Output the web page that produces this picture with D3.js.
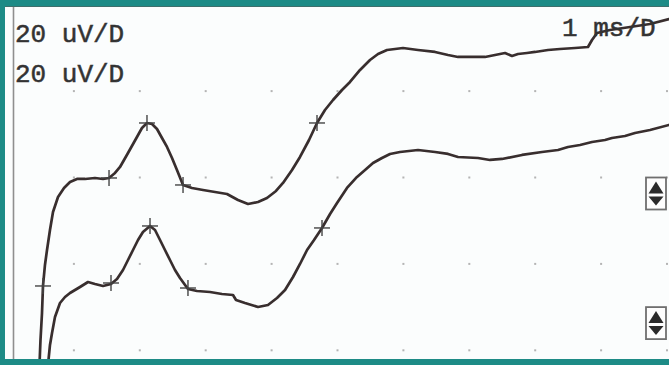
<!DOCTYPE html>
<html>
<head>
<meta charset="utf-8">
<script src="https://cdn.jsdelivr.net/npm/d3@7"></script>
<style>
  html, body { margin: 0; padding: 0; background: #fff; }
  svg { display: block; }
  .label { font-family: "Liberation Mono", "DejaVu Sans Mono", monospace; fill: #333; stroke: #333; stroke-width: 0.5; }
</style>
</head>
<body>
<svg width="669" height="365"></svg>
<script>
// time in ms, amplitude in uV (1 ms/D, 20 uV/D)
const upperMs = [0.478, 0.493, 0.516, 0.531, 0.561, 0.592, 0.637, 0.683, 0.759, 0.85, 0.941, 1.047, 1.169, 1.32, 1.442, 1.533,
	1.624, 1.7, 1.821, 1.957, 2.033, 2.109, 2.185, 2.261, 2.337, 2.413, 2.489, 2.564, 2.656, 2.792, 2.959, 3.141, 3.323, 3.49,
	3.642, 3.794, 3.93, 4.067, 4.173, 4.31, 4.431, 4.568, 4.689, 4.81, 4.932, 5.068, 5.19, 5.342, 5.493, 5.615, 5.751, 5.873,
	5.994, 6.222, 6.48, 6.677, 6.829, 7.041, 7.238, 7.39, 7.542, 7.648, 7.739, 7.875, 7.997, 8.194, 8.376, 8.604, 8.801, 8.862,
	8.938, 9.135, 9.439, 9.742, 10.03]
const upperUv = [-3.4, 2.38, 8.64, 14.89, 19.75, 23.22, 27.85, 32.02, 35.49, 37.58, 38.97, 39.66, 39.66, 39.89, 39.66, 39.89,
	41.05, 42.44, 45.68, 49.38, 51.46, 52.62, 52.39, 51.23, 49.15, 47.07, 44.52, 41.74, 38.27, 37.58, 37.11, 36.65, 36.19, 34.8,
	33.87, 34.33, 35.26, 36.88, 38.73, 41.74, 44.75, 48.68, 52.62, 55.63, 57.94, 60.26, 62.11, 64.89, 67.2, 68.59, 69.52, 69.75,
	69.98, 69.52, 69.06, 68.36, 67.9, 67.9, 67.9, 68.36, 68.82, 68.13, 68.59, 68.82, 69.06, 69.52, 69.75, 69.98, 70.21, 71.83,
	73.45, 74.15, 74.84, 75.54, 76.69]

const lowerMs = [0.607, 0.637, 0.668, 0.713, 0.789, 0.865, 0.941, 1.093, 1.214, 1.32, 1.442, 1.563, 1.654, 1.745, 1.821, 1.897,
	1.973, 2.048, 2.155, 2.231, 2.307, 2.382, 2.458, 2.534, 2.61, 2.731, 2.868, 3.065, 3.247, 3.414, 3.46, 3.596, 3.794, 3.945,
	4.082, 4.204, 4.325, 4.431, 4.538, 4.644, 4.765, 4.887, 4.993, 5.144, 5.296, 5.418, 5.539, 5.675, 5.797, 5.948, 6.222, 6.48,
	6.677, 6.829, 7.132, 7.314, 7.496, 7.8, 8.103, 8.346, 8.498, 8.68, 8.862, 9.059, 9.165, 9.362, 9.514, 9.742, 10.03]
const lowerUv = [-3.4, 1.23, 4.01, 7.71, 10.95, 12.34, 13.27, 14.66, 15.81, 15.35, 14.89, 15.35, 16.51, 18.59, 20.9, 23.22,
	25.53, 27.39, 28.78, 27.85, 25.53, 23.22, 20.9, 18.59, 16.74, 14.19, 13.73, 13.5, 13.03, 12.8, 11.64, 10.95, 10.02, 10.49,
	12.11, 13.96, 16.97, 19.98, 23.22, 25.53, 28.32, 31.56, 34.1, 37.58, 40.13, 41.74, 43.36, 44.52, 45.45, 45.91, 46.37, 45.91,
	45.45, 44.75, 44.52, 44.06, 44.29, 45.22, 45.91, 46.37, 47.07, 47.53, 48.22, 48.68, 49.15, 49.61, 50.31, 51.0, 52.16]

// cursor marks
const upperMarkMs = [0.531, 1.533, 2.109, 2.656, 4.689]
const upperMarkUv = [14.89, 39.89, 52.62, 38.27, 52.62]
const lowerMarkMs = [1.563, 2.155, 2.731, 4.765]
const lowerMarkUv = [15.58, 28.78, 14.42, 28.32]

const gridMs = [1, 2, 3, 4, 5, 6, 7, 8, 9, 10]
const gridUv = [0, 20, 40, 60]
const labels = ["20 uV/D", "20 uV/D"]
const timeLabel = "1 ms/D"

const svg = d3.select("svg")
const width = 669
const height = 365

const x = d3.scaleLinear().domain([0, 10]).range([8, 667])
const y = d3.scaleLinear().domain([0, 80]).range([350.3, 4.7])

svg.append("rect")
	.attr("width", width)
	.attr("height", height)
	.attr("fill", "#fbfdfd")

// graticule dots
const dots = []
for (const ms of gridMs) {
	for (const uv of gridUv) dots.push([ms, uv])
}
svg.append("g")
	.selectAll("rect")
	.data(dots)
	.enter()
	.append("rect")
	.attr("x", d => x(d[0]) - 1)
	.attr("y", d => y(d[1]) - 1)
	.attr("width", 2)
	.attr("height", 2)
	.attr("fill", "#b4b4b4")

const line = d3.line()
	.x(d => x(d[0]))
	.y(d => y(d[1]))

const traces = [
	d3.zip(upperMs, upperUv),
	d3.zip(lowerMs, lowerUv)
]
svg.append("g")
	.selectAll("path")
	.data(traces)
	.enter()
	.append("path")
	.attr("d", line)
	.attr("fill", "none")
	.attr("stroke", "#382e2e")
	.attr("stroke-width", 2.7)
	.attr("stroke-linejoin", "round")
	.attr("stroke-linecap", "round")

const marks = d3.zip(upperMarkMs, upperMarkUv).concat(d3.zip(lowerMarkMs, lowerMarkUv))
const mark = svg.append("g")
	.selectAll("g")
	.data(marks)
	.enter()
	.append("g")
	.attr("transform", d => `translate(${x(d[0])}, ${y(d[1])})`)
mark.append("line")
	.attr("x1", -8).attr("x2", 8)
	.attr("stroke", "#444").attr("stroke-width", 1.4)
mark.append("line")
	.attr("y1", -8).attr("y2", 8)
	.attr("stroke", "#444").attr("stroke-width", 1.4)

// labels
svg.append("g")
	.selectAll("text")
	.data(labels)
	.enter()
	.append("text")
	.attr("class", "label")
	.attr("x", 15)
	.attr("y", (d, i) => 42 + i * 40)
	.attr("font-size", 26)
	.text(d => d)

svg.append("text")
	.attr("class", "label")
	.attr("x", 562)
	.attr("y", 36)
	.attr("font-size", 26)
	.text(timeLabel)

// position buttons on the right
const btn = svg.append("g")
	.selectAll("g")
	.data([y(40), y(10)])
	.enter()
	.append("g")
	.attr("transform", d => `translate(646, ${d})`)
btn.append("rect")
	.attr("width", 20).attr("height", 32)
	.attr("fill", "#fdfdfd")
	.attr("stroke", "#6f6f6f").attr("stroke-width", 1.8)
btn.append("path")
	.attr("d", "M2.5,16 L10,4 L17.5,16 Z")
	.attr("fill", "#2a2a2a")
btn.append("path")
	.attr("d", "M2.5,19 L10,28 L17.5,19 Z")
	.attr("fill", "#2a2a2a")

// frame
svg.append("line")
	.attr("x1", 13.5).attr("x2", 13.5)
	.attr("y1", 6).attr("y2", 359)
	.attr("stroke", "#8f8f8f").attr("stroke-width", 1.6)
const teal = "#1d8b86"
svg.append("rect").attr("x", 0).attr("y", 0).attr("width", width).attr("height", 6).attr("fill", teal)
svg.append("rect").attr("x", 0).attr("y", 0).attr("width", 5).attr("height", height).attr("fill", teal)
svg.append("rect").attr("x", 0).attr("y", 359).attr("width", width).attr("height", 6).attr("fill", teal)
svg.append("line")
	.attr("x1", 5).attr("x2", width).attr("y1", 6.5).attr("y2", 6.5)
	.attr("stroke", "#3f6f6c").attr("stroke-width", 1)
</script>
</body>
</html>
